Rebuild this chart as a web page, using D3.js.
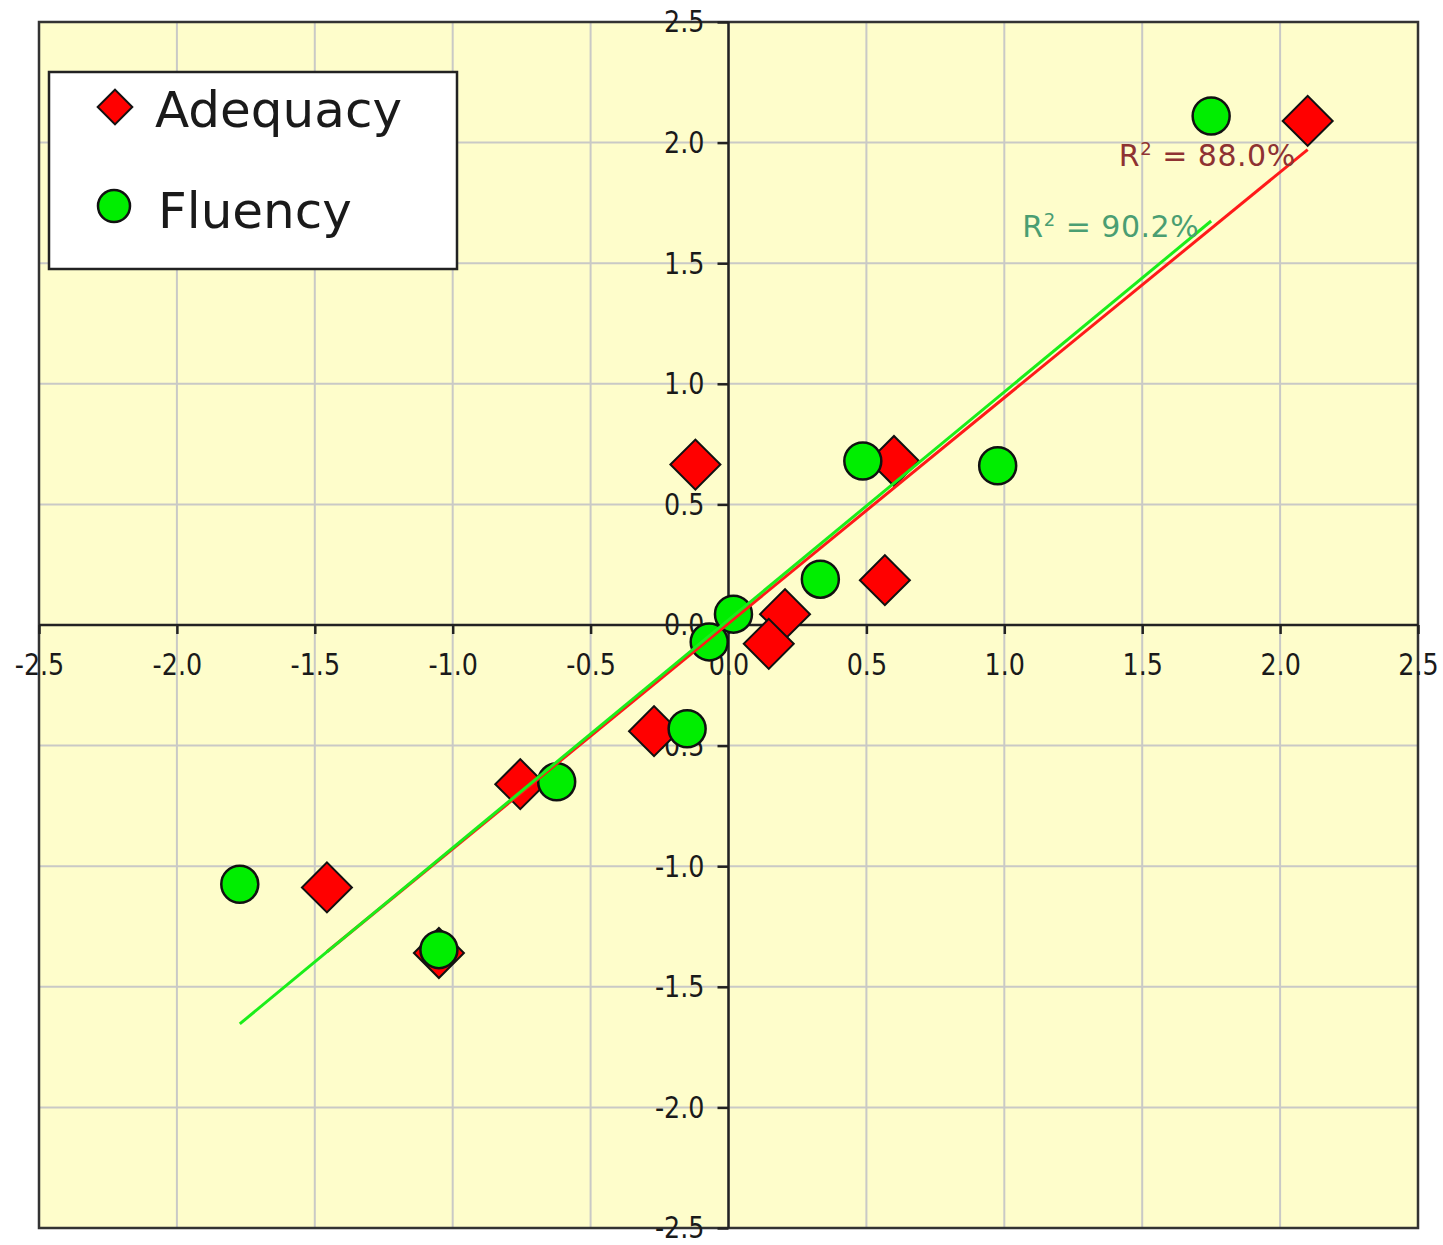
<!DOCTYPE html>
<html>
<head>
<meta charset="utf-8">
<script src="https://cdn.jsdelivr.net/npm/d3@7"></script>
<style>
  body { margin: 0; background: #fff; }
  svg { display: block; }
</style>
</head>
<body>
<svg id="chart"></svg>
<script>
// standardized scores
var adequacyX = [2.10, -0.12, 0.60, 0.567, 0.205, 0.146, -0.27, -0.755, -1.456, -1.05];
var adequacyY = [2.09, 0.665, 0.68, 0.186, 0.045, -0.078, -0.44, -0.66, -1.088, -1.36];
var fluencyX = [1.75, 0.487, 0.976, 0.333, 0.018, -0.07, -0.15, -0.623, -1.772, -1.05];
var fluencyY = [2.11, 0.68, 0.66, 0.19, 0.045, -0.07, -0.43, -0.65, -1.075, -1.346];
var seriesNames = ["Adequacy", "Fluency"];
var r2Labels = ["88.0%", "90.2%"];
var tickValues = [-2.5, -2.0, -1.5, -1.0, -0.5, 0.0, 0.5, 1.0, 1.5, 2.0, 2.5];
var tickLabels = ["-2.5", "-2.0", "-1.5", "-1.0", "-0.5", "0.0", "0.5", "1.0", "1.5", "2.0", "2.5"];

var svgWidth = 1443;
var svgHeight = 1245;
var squeeze = 0.82;

var svg = d3.select("#chart")
  .attr("width", svgWidth)
  .attr("height", svgHeight);

var x = d3.scaleLinear().domain([-2.5, 2.5]).range([39, 1418]);
var y = d3.scaleLinear().domain([-2.5, 2.5]).range([1228, 22]);

// plot background
svg.append("rect")
  .attr("x", x(-2.5)).attr("y", y(2.5))
  .attr("width", x(2.5) - x(-2.5))
  .attr("height", y(-2.5) - y(2.5))
  .attr("fill", "#fefdcb");

// grid
svg.append("g").selectAll("line")
  .data(tickValues.slice(1, -1))
  .enter().append("line")
  .attr("x1", function(d) { return x(d); })
  .attr("x2", function(d) { return x(d); })
  .attr("y1", y(2.5)).attr("y2", y(-2.5))
  .attr("stroke", "#c9c9c6").attr("stroke-width", 2);
svg.append("g").selectAll("line")
  .data(tickValues.slice(1, -1))
  .enter().append("line")
  .attr("y1", function(d) { return y(d); })
  .attr("y2", function(d) { return y(d); })
  .attr("x1", x(-2.5)).attr("x2", x(2.5))
  .attr("stroke", "#c9c9c6").attr("stroke-width", 2);

// frame
svg.append("rect")
  .attr("x", x(-2.5)).attr("y", y(2.5))
  .attr("width", x(2.5) - x(-2.5))
  .attr("height", y(-2.5) - y(2.5))
  .attr("fill", "none")
  .attr("stroke", "#333").attr("stroke-width", 2.5);

// axes through the origin
var xAxis = svg.append("g")
  .attr("transform", "translate(0," + y(0) + ")")
  .call(d3.axisBottom(x).tickValues(tickValues).tickSize(9).tickPadding(19)
    .tickFormat(function(d, i) { return tickLabels[i]; }));
var yAxis = svg.append("g")
  .attr("transform", "translate(" + x(0) + ",0)")
  .call(d3.axisLeft(y).tickValues(tickValues).tickSize(11)
    .tickFormat(function(d, i) { return tickLabels[i]; }));

[xAxis, yAxis].forEach(function(ax) {
  ax.select(".domain").remove();
  ax.selectAll(".tick line").attr("stroke", "#222").attr("stroke-width", 2.5);
  ax.selectAll(".tick text")
    .attr("fill", "#1a1a1a")
    .style("font-family", "'DejaVu Sans', sans-serif")
    .style("font-size", "31px");
});
xAxis.selectAll(".tick text").attr("transform", "scale(" + squeeze + ",1)");
yAxis.selectAll(".tick text")
  .attr("x", -24 / squeeze)
  .attr("transform", "scale(" + squeeze + ",1)");

svg.append("line")
  .attr("x1", x(-2.5)).attr("x2", x(2.5))
  .attr("y1", y(0)).attr("y2", y(0))
  .attr("stroke", "#222").attr("stroke-width", 2.5);
svg.append("line")
  .attr("x1", x(0)).attr("x2", x(0))
  .attr("y1", y(2.5)).attr("y2", y(-2.5))
  .attr("stroke", "#222").attr("stroke-width", 2.5);

function pairUp(xs, ys) {
  return xs.map(function(v, i) { return [v, ys[i]]; });
}
var adequacy = pairUp(adequacyX, adequacyY);
var fluency = pairUp(fluencyX, fluencyY);

// markers
var diamond = d3.symbol().type(d3.symbolSquare).size(1250);
svg.append("g").selectAll("path")
  .data(adequacy)
  .enter().append("path")
  .attr("d", diamond)
  .attr("transform", function(d) {
    return "translate(" + x(d[0]) + "," + y(d[1]) + ") rotate(45)";
  })
  .attr("fill", "#ff0000")
  .attr("stroke", "#111").attr("stroke-width", 2);

svg.append("g").selectAll("circle")
  .data(fluency)
  .enter().append("circle")
  .attr("cx", function(d) { return x(d[0]); })
  .attr("cy", function(d) { return y(d[1]); })
  .attr("r", 18.5)
  .attr("fill", "#00ee00")
  .attr("stroke", "#111").attr("stroke-width", 2.5);

// least squares fit over the range of each series
function fit(pts) {
  var mx = d3.mean(pts, function(d) { return d[0]; });
  var my = d3.mean(pts, function(d) { return d[1]; });
  var sxy = d3.sum(pts, function(d) { return (d[0] - mx) * (d[1] - my); });
  var sxx = d3.sum(pts, function(d) { return (d[0] - mx) * (d[0] - mx); });
  var b = sxy / sxx, a = my - b * mx;
  var ext = d3.extent(pts, function(d) { return d[0]; });
  return ext.map(function(v) { return [v, a + b * v]; });
}
var fits = [fit(adequacy), fit(fluency)];
var lineColors = ["#ff1a1a", "#1aee1a"];
var labelColors = ["#8e3232", "#4a9e72"];
var line = d3.line()
  .x(function(d) { return x(d[0]); })
  .y(function(d) { return y(d[1]); });

fits.forEach(function(f, i) {
  svg.append("path")
    .attr("d", line(f))
    .attr("fill", "none")
    .attr("stroke", lineColors[i])
    .attr("stroke-width", 3);
});

fits.forEach(function(f, i) {
  var end = f[1];
  var t = svg.append("text")
    .attr("x", x(end[0]) - 12)
    .attr("y", y(end[1]) + 16)
    .attr("text-anchor", "end")
    .attr("fill", labelColors[i])
    .style("font-family", "'DejaVu Sans', sans-serif")
    .style("font-size", "30px")
    .style("letter-spacing", "0.5px");
  t.append("tspan").text("R");
  t.append("tspan").attr("dy", -11).style("font-size", "18px").text("2");
  t.append("tspan").attr("dy", 11).text(" = " + r2Labels[i]);
});

// legend
var legend = svg.append("g");
legend.append("rect")
  .attr("x", 49).attr("y", 72)
  .attr("width", 408).attr("height", 197)
  .attr("fill", "#fff")
  .attr("stroke", "#222").attr("stroke-width", 2.5);
legend.append("path")
  .attr("d", d3.symbol().type(d3.symbolSquare).size(600))
  .attr("transform", "translate(115,107) rotate(45)")
  .attr("fill", "#ff0000").attr("stroke", "#111").attr("stroke-width", 2);
legend.append("circle")
  .attr("cx", 114).attr("cy", 206).attr("r", 16)
  .attr("fill", "#00ee00").attr("stroke", "#111").attr("stroke-width", 2.5);
legend.selectAll("text.lg")
  .data(seriesNames)
  .enter().append("text")
  .attr("class", "lg")
  .attr("x", function(d, i) { return i == 0 ? 155 : 158; })
  .attr("y", function(d, i) { return i == 0 ? 127 : 228; })
  .attr("fill", "#1a1a1a")
  .style("font-family", "'DejaVu Sans', sans-serif")
  .style("font-size", "50px")
  .text(function(d) { return d; });
</script>
</body>
</html>
